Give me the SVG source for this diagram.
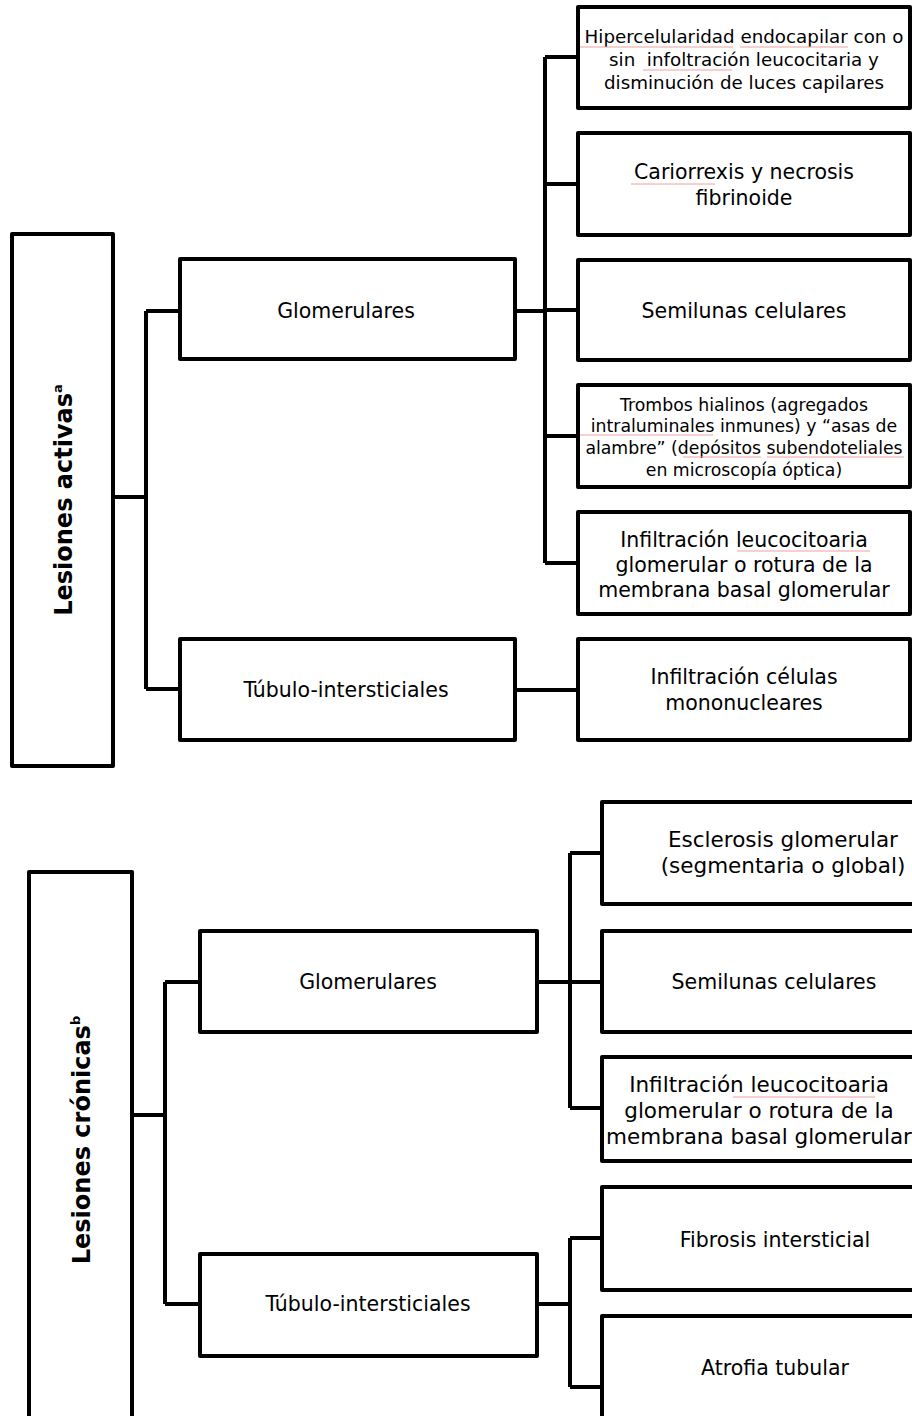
<svg xmlns="http://www.w3.org/2000/svg" width="912" height="1416" viewBox="0 0 912 1416">
<style>
.box{fill:#fff;stroke:#000;stroke-width:4;stroke-linejoin:round}
.con{fill:none;stroke:#000;stroke-width:4;stroke-linejoin:round}
.t{font-family:"DejaVu Sans",Verdana,sans-serif;fill:#000;text-anchor:middle}
.m{font-size:20.5px}
.l{font-size:21.5px}
.s{font-size:18.3px}
.xs{font-size:17.3px}
.b{font-family:"DejaVu Sans",Verdana,sans-serif;font-weight:bold;font-size:24px;fill:#000;text-anchor:middle}
.sp{stroke:#f2a0a0;stroke-width:1;fill:none}
</style>
<rect width="912" height="1416" fill="#fff"/>
<g id="connectors">
<path class="con" d="M113,497 H146 M146,311 V689 M146,311 H180 M146,689 H180"/>
<path class="con" d="M515,311 H545 M545,57 V563 M545,57 H578 M545,184 H578 M545,310 H578 M545,436 H578 M545,563 H578"/>
<path class="con" d="M515,690 H578"/>
<path class="con" d="M132,1115 H165 M165,982 V1304 M165,982 H200 M165,1304 H200"/>
<path class="con" d="M537,982 H570 M570,853 V1108 M570,853 H602 M570,982 H602 M570,1108 H602"/>
<path class="con" d="M537,1304 H570 M570,1238 V1387 M570,1238 H602 M570,1387 H602"/>
</g>
<g id="n-activas">
<rect class="box" x="12" y="234" width="101" height="532"/>
<text class="b" transform="translate(72,500) rotate(-90)">Lesiones activas<tspan font-size="13" dy="-10">a</tspan></text>
</g>
<g id="n-glom1">
<rect class="box" x="180" y="259" width="335" height="100"/>
<text class="t m" x="346" y="318">Glomerulares</text>
</g>
<g id="n-tub1">
<rect class="box" x="180" y="639" width="335" height="101"/>
<text class="t m" x="346" y="697">Túbulo-intersticiales</text>
</g>
<g id="n-hiper">
<rect class="box" x="578" y="7" width="332" height="101"/>
<text class="t s" x="744" y="43">Hipercelularidad endocapilar con o</text>
<text class="t s" x="744" y="66">sin &#160;infoltración leucocitaria y</text>
<text class="t s" x="744" y="89">disminución de luces capilares</text>
<path class="sp" d="M580,47 H733 M740,47 H848 M643,70 H732"/>
</g>
<g id="n-cario">
<rect class="box" x="578" y="133" width="332" height="102"/>
<text class="t m" x="744" y="179">Cariorrexis y necrosis</text>
<text class="t m" x="744" y="205">fibrinoide</text>
<path class="sp" d="M631,184 H715"/>
</g>
<g id="n-semi1">
<rect class="box" x="578" y="260" width="332" height="100"/>
<text class="t m" x="744" y="318">Semilunas celulares</text>
</g>
<g id="n-trombos">
<rect class="box" x="578" y="385" width="332" height="102"/>
<text class="t xs" x="744" y="411">Trombos hialinos (agregados</text>
<text class="t xs" x="744" y="432">intraluminales inmunes) y “asas de</text>
<text class="t xs" x="744" y="454">alambre” (depósitos subendoteliales</text>
<text class="t xs" x="744" y="476">en microscopía óptica)</text>
<path class="sp" d="M580,435 H713 M683,457 H761 M767,457 H904"/>
</g>
<g id="n-infil1">
<rect class="box" x="578" y="512" width="332" height="102"/>
<text class="t m" x="744" y="547">Infiltración leucocitoaria</text>
<text class="t m" x="744" y="572">glomerular o rotura de la</text>
<text class="t m" x="744" y="597">membrana basal glomerular</text>
<path class="sp" d="M737,551 H870"/>
</g>
<g id="n-mono">
<rect class="box" x="578" y="639" width="332" height="101"/>
<text class="t m" x="744" y="684">Infiltración células</text>
<text class="t m" x="744" y="710">mononucleares</text>
</g>
<g id="n-cronicas">
<rect class="box" x="29" y="872" width="103" height="560"/>
<text class="b" transform="translate(90,1140) rotate(-90)">Lesiones crónicas<tspan font-size="13" dy="-10">b</tspan></text>
</g>
<g id="n-glom2">
<rect class="box" x="200" y="931" width="337" height="101"/>
<text class="t m" x="368" y="989">Glomerulares</text>
</g>
<g id="n-tub2">
<rect class="box" x="200" y="1254" width="337" height="102"/>
<text class="t m" x="368" y="1311">Túbulo-intersticiales</text>
</g>
<g id="n-escl">
<rect class="box" x="602" y="802" width="330" height="102"/>
<text class="t l" x="783" y="847">Esclerosis glomerular</text>
<text class="t l" x="783" y="873">(segmentaria o global)</text>
</g>
<g id="n-semi2">
<rect class="box" x="602" y="931" width="330" height="101"/>
<text class="t m" x="774" y="989">Semilunas celulares</text>
</g>
<g id="n-infil2">
<rect class="box" x="602" y="1057" width="330" height="104"/>
<text class="t l" x="759" y="1092">Infiltración leucocitoaria</text>
<text class="t l" x="759" y="1118">glomerular o rotura de la</text>
<text class="t l" x="759" y="1144">membrana basal glomerular</text>
<path class="sp" d="M733,1097 H875"/>
</g>
<g id="n-fibrosis">
<rect class="box" x="602" y="1187" width="330" height="103"/>
<text class="t m" x="775" y="1247">Fibrosis intersticial</text>
</g>
<g id="n-atrofia">
<rect class="box" x="602" y="1316" width="330" height="140"/>
<text class="t m" x="775" y="1375">Atrofia tubular</text>
</g>
</svg>
